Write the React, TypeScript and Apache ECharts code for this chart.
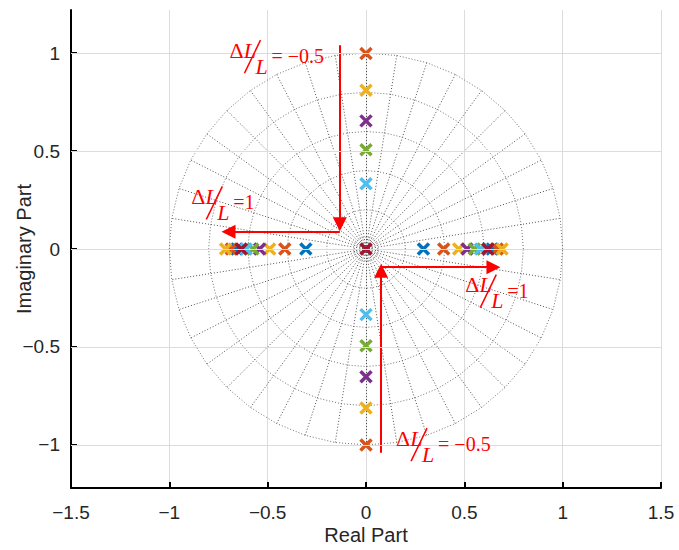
import React, { useEffect, useRef } from "react";
import * as echarts from "echarts";

// ---- data ----
const xTicks = [-1.5, -1, -0.5, 0, 0.5, 1, 1.5];
const yTicks = [-1, -0.5, 0, 0.5, 1];

const seriesColors = ["#0072BD", "#D95319", "#EDB120", "#7E2F8E", "#77AC30", "#4DBEEE", "#A2142F"];
const polesBlue = [[-0.657, 0], [-0.306, 0], [0.292, 0], [0.641, 0]];
const polesOrange = [[-0.685, 0], [-0.413, 0], [0.395, 0], [0.667, 0], [0, 0.998], [0, -1.0]];
const polesYellow = [[-0.714, 0], [-0.49, 0], [0.471, 0], [0.692, 0], [0, 0.81], [0, -0.812]];
const polesPurple = [[-0.541, 0], [0.514, 0], [0, 0.654], [0, -0.652]];
const polesGreen = [[-0.575, 0], [0.551, 0], [0, 0.507], [0, -0.494]];
const polesLightBlue = [[-0.609, 0], [0.582, 0], [0, 0.333], [0, -0.335]];
const polesDarkRed = [[-0.634, 0], [0.619, 0], [0, 0]];
const poleSets = [polesBlue, polesOrange, polesYellow, polesPurple, polesGreen, polesLightBlue, polesDarkRed];

// s-plane style grid: radial lines every 9 degrees, rings at these radii
const spokeStepDeg = 9;
const ringRadii = [0.03, 0.06, 0.2, 0.4, 0.6, 0.8, 1.0];

// annotation arrows (data coordinates)
const arrowSegments = [
  [[-0.133, 1.04], [-0.133, 0.126]],
  [[-0.133, 0.088], [-0.699, 0.088]],
  [[0.077, -1.04], [0.077, -0.111]],
  [[0.077, -0.093], [0.648, -0.093]],
];
// annotation labels: anchor (data coords) + value
const annoAnchors = [[-0.689, 1.051], [-0.883, 0.304], [0.51, -0.146], [0.158, -0.93]];
const annoValues = ["= \u22120.5", "=1", "=1", "= \u22120.5"];

const fmt = (v: number) => String(Math.round(v * 10) / 10).replace("-", "\u2212");

export default function App() {
  const ref = useRef<HTMLDivElement>(null);
  useEffect(() => {
    if (!ref.current) return;
    const chart = echarts.init(ref.current, null, { renderer: "svg" });

    const spokes: any[] = [];
    for (let a = 0; a < 360; a += spokeStepDeg) {
      const r = (a * Math.PI) / 180;
      spokes.push({ coords: [[0, 0], [Math.cos(r), Math.sin(r)]] });
    }
    const rings: any[] = ringRadii.map((rad) => {
      const pts: number[][] = [];
      for (let a = 0; a <= 360; a += spokeStepDeg) {
        const r = (a * Math.PI) / 180;
        pts.push([rad * Math.cos(r), rad * Math.sin(r)]);
      }
      return { coords: pts };
    });

    const font = "'Liberation Sans', Arial, sans-serif";
    const option: any = {
      animation: false,
      backgroundColor: "#fff",
      grid: { left: 71, right: 18, top: 10, bottom: 62, outerBoundsMode: "none" },
      xAxis: {
        type: "value",
        min: -1.5,
        max: 1.5,
        interval: 0.5,
        axisLine: { show: true, onZero: false, lineStyle: { color: "#000", width: 2 } },
        axisTick: { show: true, inside: true, length: 6, lineStyle: { color: "#000", width: 2 } },
        axisLabel: { formatter: fmt, fontSize: 19, color: "#262626", margin: 15, fontFamily: font },
        splitLine: { show: true, lineStyle: { color: "#dcdcdc", width: 1 } },
        name: "Real Part",
        nameLocation: "middle",
        nameGap: 37,
        nameMoveOverlap: false,
        nameTextStyle: { fontSize: 20, color: "#262626", fontFamily: font },
      },
      yAxis: {
        type: "value",
        min: -1.22,
        max: 1.22,
        axisLine: { show: true, onZero: false, lineStyle: { color: "#000", width: 2 } },
        axisTick: { show: true, inside: true, length: 6, customValues: yTicks, lineStyle: { color: "#000", width: 2 } },
        axisLabel: { customValues: yTicks, formatter: fmt, fontSize: 19, color: "#262626", margin: 11, fontFamily: font },
        splitLine: { show: false },
        name: "Imaginary Part",
        nameLocation: "middle",
        nameGap: 37,
        nameMoveOverlap: false,
        nameTextStyle: { fontSize: 20, color: "#262626", fontFamily: font },
      },
      series: [
        {
          type: "line",
          data: [],
          silent: true,
          z: 0,
          markLine: {
            silent: true,
            symbol: "none",
            label: { show: false },
            lineStyle: { color: "#dcdcdc", width: 1, type: "solid" },
            data: yTicks.map((v) => ({ yAxis: v })),
          },
        },
        {
          type: "lines",
          coordinateSystem: "cartesian2d",
          silent: true,
          z: 1,
          lineStyle: { color: "#505050", width: 1, type: [1, 2], opacity: 1 },
          data: spokes,
        },
        {
          type: "lines",
          coordinateSystem: "cartesian2d",
          polyline: true,
          silent: true,
          z: 1,
          lineStyle: { color: "#707070", width: 1, type: [1, 2], opacity: 1 },
          data: rings,
        },
        {
          type: "lines",
          coordinateSystem: "cartesian2d",
          silent: true,
          z: 3,
          symbol: ["none", "triangle"],
          symbolSize: 14,
          lineStyle: { color: "#ff0000", width: 2, opacity: 1 },
          itemStyle: { color: "#ff0000" },
          data: arrowSegments.map((c) => ({ coords: c })),
        },
        ...poleSets.map((pts, i) => ({
          type: "scatter",
          z: 4,
          symbol: "path://M0 0L10 10M10 0L0 10",
          symbolSize: 11,
          itemStyle: { color: seriesColors[i], borderColor: seriesColors[i], borderWidth: 3.5, opacity: 1 },
          data: pts,
        })),
      ],
    };
    chart.setOption(option);

    const serif = "'Liberation Serif', 'Times New Roman', serif";
    const graphics: any[] = [];
    annoAnchors.forEach((a, i) => {
      const p = chart.convertToPixel({ gridIndex: 0 }, a) as number[];
      const [x, y] = p;
      graphics.push({
        type: "text",
        x: x - 1,
        y: y - 4,
        z: 10,
        style: {
          text: "{d|\u0394}{l|L}",
          rich: {
            d: { fontSize: 22, fontFamily: serif, fill: "#ff0000" },
            l: { fontSize: 22, fontFamily: serif, fontStyle: "italic", fill: "#ff0000" },
          },
          textVerticalAlign: "top",
          fill: "#ff0000",
        },
      });
      graphics.push({
        type: "line",
        z: 10,
        shape: { x1: x + 30, y1: y - 3, x2: x + 14, y2: y + 30 },
        style: { stroke: "#ff0000", lineWidth: 1.5 },
      });
      graphics.push({
        type: "text",
        x: x + 25,
        y: y + 12,
        z: 10,
        style: {
          text: "L",
          font: `italic 22px ${serif}`,
          fill: "#ff0000",
          textVerticalAlign: "top",
        },
      });
      graphics.push({
        type: "text",
        x: x + 41,
        y: y + 13,
        z: 10,
        style: {
          text: annoValues[i],
          font: `20px ${serif}`,
          fill: "#ff0000",
          textVerticalAlign: "middle",
        },
      });
    });
    chart.setOption({ graphic: graphics });

    return () => chart.dispose();
  }, []);

  return (
    <div
      ref={ref}
      style={{ position: "fixed", left: 0, top: 0, width: 679, height: 550, background: "#fff" }}
    />
  );
}
